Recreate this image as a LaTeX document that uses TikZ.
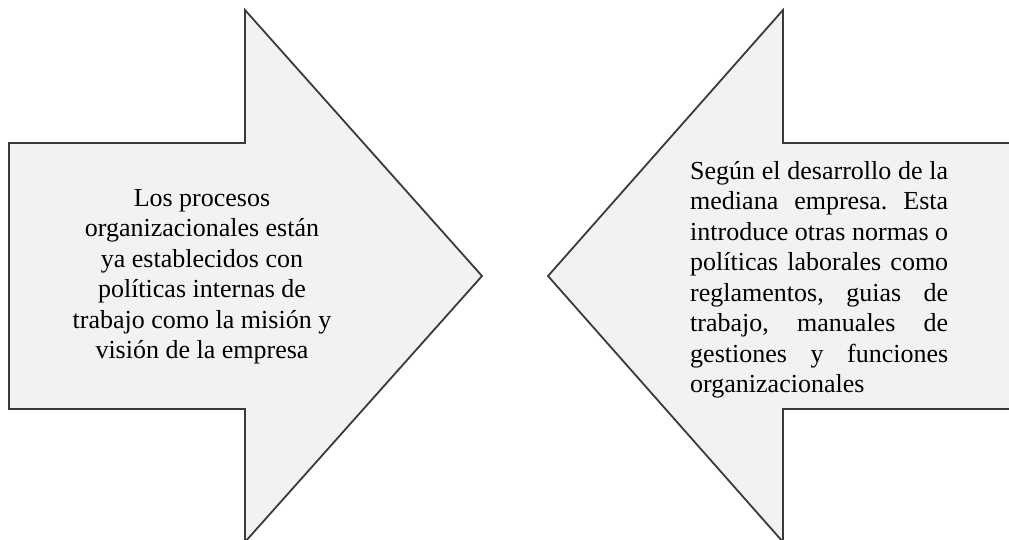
\documentclass[tikz,border=0pt]{standalone}
\usepackage{fontspec}
\setmainfont{Liberation Serif}
\frenchspacing
\definecolor{arrowfill}{HTML}{F2F2F2}
\definecolor{arrowline}{HTML}{3A3A3A}
\tikzset{
  bigarrow/.style={fill=arrowfill, draw=arrowline, line width=1.8pt, line join=miter},
  txt/.style={inner sep=0pt, font=\fontsize{26}{30.5}\selectfont, text=black}
}
\newcommand{\jline}[1]{\makebox[258pt][s]{#1}}
\begin{document}
\begin{tikzpicture}[x=1pt,y=-1pt]
\useasboundingbox (0,0) rectangle (1009,540);
\clip (0,0) rectangle (1009,540);
% left arrow (pointing right)
\draw[bigarrow] (9,143) -- (245,143) -- (245,10) -- (482,276) -- (245,542) -- (245,409) -- (9,409) -- cycle;
% right arrow (pointing left)
\draw[bigarrow] (1020,143) -- (783,143) -- (783,10) -- (548,276) -- (783,542) -- (783,409) -- (1020,409) -- cycle;
\node[txt, align=center] (lefttext) at (202,277) {Los procesos\\organizacionales están\\ya establecidos con\\políticas internas de\\trabajo como la misión y\\visión de la empresa};
\node[txt, align=left, anchor=west] (righttext) at (690,280) {%
\jline{Según el desarrollo de la}\\
\jline{mediana empresa. Esta}\\
\jline{introduce otras normas o}\\
\jline{políticas laborales como}\\
\jline{reglamentos, guias de}\\
\jline{trabajo, manuales de}\\
\jline{gestiones y funciones}\\
organizacionales};
\end{tikzpicture}
\end{document}
